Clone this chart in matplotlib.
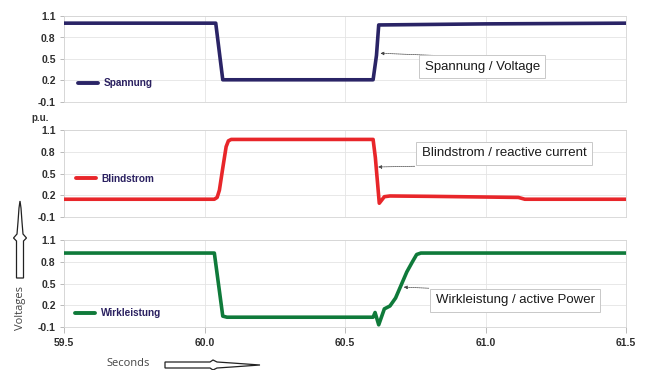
import matplotlib
matplotlib.use("Agg")
import matplotlib.pyplot as plt
from matplotlib.patches import Polygon

# --- data -------------------------------------------------------------
t_voltage = [59.5, 60.04, 60.065, 60.6, 60.612, 60.62, 61.0, 61.5]
voltage = [1.0, 1.0, 0.21, 0.21, 0.55, 0.975, 0.99, 1.0]

t_reactive = [59.5, 60.035, 60.045, 60.053, 60.064, 60.077, 60.085, 60.095,
              60.6, 60.608, 60.622, 60.64, 60.66, 60.8, 61.117, 61.14, 61.5]
reactive = [0.145, 0.145, 0.17, 0.27, 0.55, 0.87, 0.95, 0.97,
            0.97, 0.72, 0.09, 0.18, 0.19, 0.185, 0.17, 0.145, 0.145]

t_active = [59.5, 60.035, 60.065, 60.08, 60.6, 60.607, 60.62, 60.64, 60.66,
            60.68, 60.70, 60.72, 60.74, 60.755, 60.77, 61.5]
active = [0.92, 0.92, 0.05, 0.035, 0.035, 0.1, -0.07, 0.15, 0.19,
          0.3, 0.48, 0.66, 0.8, 0.9, 0.92, 0.92]

y_ticks = [-0.1, 0.2, 0.5, 0.8, 1.1]
y_tick_labels = ["-0.1", "0.2", "0.5", "0.8", "1.1"]
x_ticks = [59.5, 60.0, 60.5, 61.0, 61.5]
x_tick_labels = ["59.5", "60.0", "60.5", "61.0", "61.5"]

series_names = ["Spannung", "Blindstrom", "Wirkleistung"]
box_texts = ["Spannung / Voltage", "Blindstrom / reactive current",
             "Wirkleistung / active Power"]
colors = ["#2a2466", "#e8262a", "#0f7a3a"]

# --- figure -----------------------------------------------------------
W, H = 645, 370
fig = plt.figure(figsize=(W / 100, H / 100), dpi=100)
plt.rcParams["font.family"] = ["Liberation Sans", "DejaVu Sans"]


def px_rect(left, top, right, bottom):
    return [left / W, 1 - bottom / H, (right - left) / W, (bottom - top) / H]


panels = [px_rect(64, 16, 626, 102), px_rect(64, 130, 626, 217),
          px_rect(64, 240, 626, 327)]
data = [(t_voltage, voltage), (t_reactive, reactive), (t_active, active)]

# legend anchor (axes fraction) and annotation layout (data coords)
legend_pos = [(0.025, 0.22), (0.021, 0.437), (0.02, 0.16)]
box_centers = [(60.988, 0.39), (61.066, 0.776), (61.105, 0.27)]
arrow_tails = [(60.82, 0.55), (60.748, 0.60), (60.798, 0.435)]
arrow_heads = [(60.626, 0.58), (60.618, 0.59), (60.709, 0.45)]

grid_c = "#e4e4e4"
spine_c = "#d4d4d4"

for i, (rect, (tx, vy)) in enumerate(zip(panels, data)):
    ax = fig.add_axes(rect)
    ax.plot(tx, vy, color=colors[i], lw=2.6, solid_joinstyle="round",
            solid_capstyle="round", label=series_names[i], zorder=3)
    ax.set_xlim(59.5, 61.5)
    ax.set_ylim(-0.1, 1.1)
    ax.set_yticks(y_ticks)
    ax.set_yticklabels(y_tick_labels)
    ax.set_xticks(x_ticks)
    ax.grid(True, color=grid_c, lw=0.6, zorder=0)
    for s in ax.spines.values():
        s.set_color(spine_c)
        s.set_linewidth(0.6)
    ax.tick_params(axis="y", length=3, width=0.6, color="#b0b0b0", pad=3,
                   labelsize=7.5, labelcolor="#2e2e2e")
    for lab in ax.get_yticklabels():
        lab.set_fontweight("bold")
    if i == 2:
        ax.set_xticklabels(x_tick_labels)
        ax.tick_params(axis="x", length=4, width=0.6, color="#b0b0b0", pad=4,
                       labelsize=7.5, labelcolor="#2e2e2e")
        for lab in ax.get_xticklabels():
            lab.set_fontweight("bold")
    else:
        ax.tick_params(axis="x", length=0, labelbottom=False)

    leg = ax.legend(loc="center left", bbox_to_anchor=legend_pos[i],
                    frameon=False, prop=dict(size=7.2, weight="bold"),
                    handlelength=2.0, handletextpad=0.6, borderpad=0,
                    borderaxespad=0)
    for txt in leg.get_texts():
        txt.set_color("#2a2060")
    for ln in leg.get_lines():
        ln.set_linewidth(2.8)
        ln.set_solid_capstyle("round")

    ax.text(*box_centers[i], box_texts[i], ha="center", va="center",
            fontsize=9.5, color="#1a1a1a", zorder=5,
            bbox=dict(boxstyle="square,pad=0.42", fc="white",
                      ec="#c8c8c8", lw=0.7))
    ax.annotate("", xy=arrow_heads[i], xytext=arrow_tails[i],
                arrowprops=dict(arrowstyle="-|>", color="#444444", lw=0.5,
                                linestyle=(0, (2, 1)), mutation_scale=5,
                                shrinkA=0, shrinkB=0), zorder=4)

fig.text(40 / W, 1 - 118 / H, "p.u.", ha="center", va="center",
         fontsize=7, fontweight="bold", color="#333333")

fig.text(20 / W, 1 - 308 / H, "Voltages", rotation=90, ha="center",
         va="center", fontsize=8, color="#444444", family="Open Sans")
fig.text(128 / W, 1 - 364 / H, "Seconds", ha="center", va="center",
         fontsize=8, color="#444444", family="Open Sans")


def fig_poly(points):
    return Polygon([(x / W, 1 - y / H) for x, y in points], closed=True,
                   transform=fig.transFigure, fc="white", ec="#222222",
                   lw=0.9)


# hollow arrow pointing up, beside the "Voltages" label
cx = 20
up = [(cx - 3.5, 278), (cx + 3.5, 278), (cx + 3.5, 241), (cx + 6.5, 238),
      (cx + 3, 234), (cx + 2, 222), (cx + 1, 208), (cx, 201),
      (cx - 1, 208), (cx - 2, 222), (cx - 3, 234), (cx - 6.5, 238),
      (cx - 3.5, 241)]
fig.patches.append(fig_poly(up))

# hollow arrow pointing right, after "Seconds"
cy = 365
right = [(165, cy - 3), (210, cy - 3), (213, cy - 5), (217, cy - 3),
         (232, cy - 2), (246, cy - 1), (260, cy), (246, cy + 1),
         (232, cy + 2), (217, cy + 3), (213, cy + 5), (210, cy + 3),
         (165, cy + 3)]
fig.patches.append(fig_poly(right))

fig.savefig("out.png", dpi=100, facecolor="white")
